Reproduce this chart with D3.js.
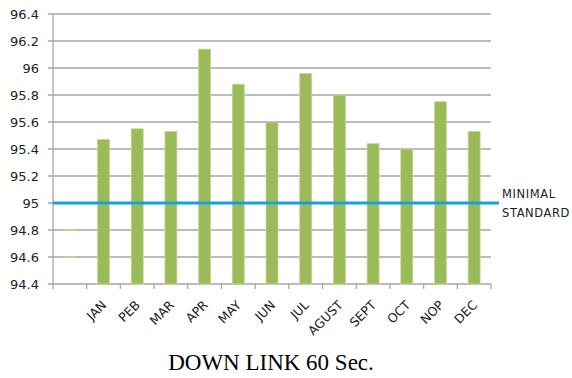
<!DOCTYPE html>
<html>
<head>
<meta charset="utf-8">
<script src="https://cdn.jsdelivr.net/npm/d3@7"></script>
<style>
  body { margin: 0; background: #fff; }
  #chart { position: relative; width: 572px; height: 378px; }
  svg { display: block; }
  .xlab {
    position: absolute;
    font-family: "DejaVu Sans", Verdana, sans-serif;
    font-size: 12.5px;
    line-height: 12px;
    color: #222;
    white-space: nowrap;
    transform-origin: 100% 50%;
    transform: rotate(-45deg);
  }
</style>
</head>
<body>
<div id="chart"></div>
<script>
// categories, first slot is empty in the original
var months = ["", "JAN", "PEB", "MAR", "APR", "MAY", "JUN", "JUL", "AGUST", "SEPT", "OCT", "NOP", "DEC"];
var values = [null, 95.47, 95.55, 95.53, 96.14, 95.88, 95.6, 95.96, 95.8, 95.44, 95.4, 95.75, 95.53];
var yTicks = [94.4, 94.6, 94.8, 95, 95.2, 95.4, 95.6, 95.8, 96, 96.2, 96.4];
var standard = 95;
var standardLabel = ["MINIMAL", "STANDARD"];
var stubMarks = [94.6, 94.8]; // little green dashes in the blank slot
var title = "DOWN LINK 60 Sec.";

var width = 572, height = 378;
var margin = { top: 14, left: 53, right: 81, bottom: 94 };

var svg = d3.select("#chart").append("svg")
  .attr("width", width)
  .attr("height", height);

var x = d3.scaleBand()
  .domain(months.map(function (d, i) { return i; }))
  .range([margin.left, width - margin.right])
  .paddingInner(0).paddingOuter(0);

var y = d3.scaleLinear()
  .domain([94.4, 96.4])
  .range([height - margin.bottom, margin.top]);

// gridlines
svg.append("g")
  .selectAll("line")
  .data(yTicks)
  .enter().append("line")
  .attr("x1", margin.left - 5)
  .attr("x2", width - margin.right)
  .attr("y1", function (d) { return y(d); })
  .attr("y2", function (d) { return y(d); })
  .attr("stroke", "#a6a6a6")
  .attr("stroke-width", 1.3);

// y axis line
svg.append("line")
  .attr("x1", margin.left).attr("x2", margin.left)
  .attr("y1", y(96.4)).attr("y2", y(94.4))
  .attr("stroke", "#a6a6a6")
  .attr("stroke-width", 1.3);

// x axis tick marks
var xEdges = d3.range(months.length + 1).map(function (i) { return margin.left + i * x.bandwidth(); });
svg.append("g")
  .selectAll("line")
  .data(xEdges)
  .enter().append("line")
  .attr("x1", function (d) { return d; })
  .attr("x2", function (d) { return d; })
  .attr("y1", y(94.4))
  .attr("y2", y(94.4) + 5)
  .attr("stroke", "#a6a6a6")
  .attr("stroke-width", 1.3);

// y labels
svg.append("g")
  .selectAll("text")
  .data(yTicks)
  .enter().append("text")
  .attr("x", 39)
  .attr("y", function (d) { return y(d); })
  .attr("dy", "0.36em")
  .attr("text-anchor", "end")
  .style("font-family", "DejaVu Sans, Verdana, sans-serif")
  .style("font-size", "13px")
  .style("fill", "#222")
  .text(function (d) { return d3.format("")(+d.toFixed(1)); });

// stub marks in empty slot
svg.append("g")
  .selectAll("line")
  .data(stubMarks)
  .enter().append("line")
  .attr("x1", x(0) + x.bandwidth() * 0.33)
  .attr("x2", x(0) + x.bandwidth() * 0.68)
  .attr("y1", function (d) { return y(d); })
  .attr("y2", function (d) { return y(d); })
  .attr("stroke", "#c5dc8e")
  .attr("stroke-width", 1.3);

// bars
var barW = 12;
svg.append("g")
  .selectAll("rect")
  .data(values.map(function (v, i) { return { i: i, v: v }; }).filter(function (d) { return d.v != null; }))
  .enter().append("rect")
  .attr("x", function (d) { return x(d.i) + x.bandwidth() / 2 - barW / 2; })
  .attr("y", function (d) { return y(d.v); })
  .attr("width", barW)
  .attr("height", function (d) { return y(94.4) - y(d.v); })
  .attr("fill", "#9bbb59")
  .attr("stroke", "#c4d99b")
  .attr("stroke-width", 0.8);

// minimal standard line
svg.append("line")
  .attr("x1", margin.left)
  .attr("x2", width - margin.right + 8)
  .attr("y1", y(standard))
  .attr("y2", y(standard))
  .attr("stroke", "#14a3e0")
  .attr("stroke-width", 3.2);

svg.append("g")
  .selectAll("text")
  .data(standardLabel)
  .enter().append("text")
  .attr("x", 502)
  .attr("y", function (d, i) { return y(standard) - 5 + i * 18.5; })
  .style("font-family", "DejaVu Sans, Verdana, sans-serif")
  .style("font-size", "11.5px")
  .style("letter-spacing", "0.6px")
  .style("fill", "#222")
  .text(function (d) { return d; });

// x labels as html overlays, rotated 45deg with the right end under the bar
d3.select("#chart")
  .selectAll("div.xlab")
  .data(months.map(function (m, i) { return { m: m, i: i }; }).filter(function (d) { return d.m; }))
  .enter().append("div")
  .attr("class", "xlab")
  .style("right", function (d) { return (width - (x(d.i) + x.bandwidth() / 2 + 1)) + "px"; })
  .style("top", (y(94.4) + 19 - 6) + "px")
  .text(function (d) { return d.m; });

// caption
svg.append("text")
  .attr("x", 271)
  .attr("y", 370)
  .attr("text-anchor", "middle")
  .style("font-family", "Liberation Serif, Times New Roman, serif")
  .style("font-size", "23px")
  .style("fill", "#000")
  .text(title);
</script>
</body>
</html>
